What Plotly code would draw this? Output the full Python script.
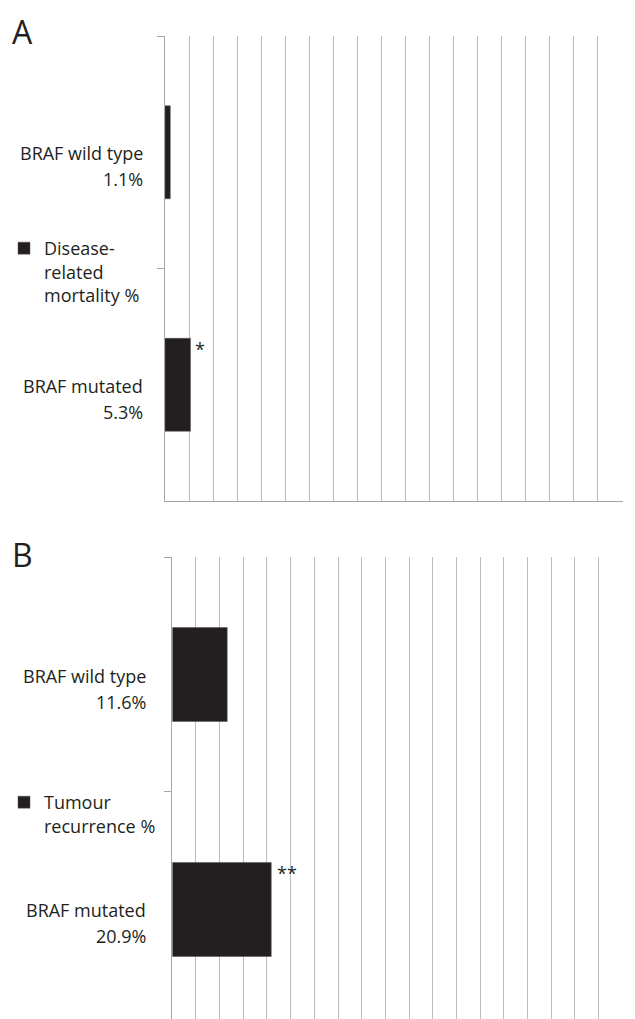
import plotly.graph_objects as go

# ---- data ----
categories = ["BRAF wild type", "BRAF mutated"]
mortality_pct = [1.1, 5.3]
recurrence_pct = [11.6, 20.9]
series_names = ["Disease-<br>related<br>mortality %", "Tumour<br>recurrence %"]
mortality_sig = ["", "*"]
recurrence_sig = ["", "**"]
panel_letters = ["A", "B"]

W, H = 635, 1019
INK = "#231f20"
FONT = "Open Sans"
FS = 18

fig = go.Figure()

panels = [
    dict(vals=mortality_pct, sig=mortality_sig, name=series_names[0], xa="x", ya="y",
         xdom=(165 / W, 623 / W), ydom=(1 - 501 / H, 1 - 36 / H), yrange=[1.5, -0.5],
         legend="legend", showxline=True, lab_right=145, leg_top=230, letter_y=32),
    dict(vals=recurrence_pct, sig=recurrence_sig, name=series_names[1], xa="x2", ya="y2",
         xdom=(172.3 / W, 623 / W), ydom=(0, 1 - 557 / H), yrange=[1.466, -0.5],
         legend="legend2", showxline=False, lab_right=148, leg_top=784, letter_y=554),
]

for i, p in enumerate(panels):
    fig.add_trace(go.Bar(
        x=p["vals"], y=categories, orientation="h", name=p["name"],
        marker=dict(color=INK, line=dict(color="#555555", width=0.5)),
        width=0.4, xaxis=p["xa"], yaxis=p["ya"], legend=p["legend"], showlegend=True,
        hoverinfo="skip",
    ))
    # significance marks
    for j, (v, s) in enumerate(zip(p["vals"], p["sig"])):
        if s:
            fig.add_annotation(x=v, y=j - 0.2, xref=p["xa"], yref=p["ya"], text=s,
                               showarrow=False, xanchor="left", yanchor="top",
                               xshift=2 if len(s) == 1 else 4, yshift=3,
                               font=dict(size=18, color=INK, family=FONT))
    # category labels (two lines each)
    for j, (c, v) in enumerate(zip(categories, p["vals"])):
        fig.add_annotation(x=p["lab_right"] / W, y=j, xref="paper", yref=p["ya"], text=c,
                           showarrow=False, xanchor="right", yanchor="middle", yshift=-1,
                           font=dict(size=FS, color=INK, family=FONT))
        fig.add_annotation(x=p["lab_right"] / W, y=j, xref="paper", yref=p["ya"], text=f"{v}%",
                           showarrow=False, xanchor="right", yanchor="middle", yshift=-27,
                           font=dict(size=FS, color=INK, family=FONT))
    # panel letter
    fig.add_annotation(x=10 / W, y=1 - p["letter_y"] / H, xref="paper", yref="paper",
                       text=panel_letters[i], showarrow=False, xanchor="left", yanchor="middle",
                       font=dict(size=32, color=INK, family=FONT))

    xname = "xaxis" if p["xa"] == "x" else "xaxis2"
    yname = "yaxis" if p["ya"] == "y" else "yaxis2"
    fig.update_layout(**{
        xname: dict(domain=list(p["xdom"]), range=[0, 95.2], dtick=5, tick0=0,
                    showgrid=True, gridcolor="#bdbdbd", gridwidth=1, zeroline=False,
                    showticklabels=False, ticks="", anchor=p["ya"],
                    showline=p["showxline"], linecolor="#a6a6a6", linewidth=1),
        yname: dict(domain=list(p["ydom"]), range=p["yrange"], type="category",
                    categoryorder="array", categoryarray=categories,
                    showgrid=False, zeroline=False, showticklabels=False,
                    ticks="outside", tickson="boundaries", ticklen=7, tickcolor="#a6a6a6",
                    showline=True, linecolor="#a6a6a6", linewidth=1, anchor=p["xa"]),
        p["legend"]: dict(x=4 / W, y=1 - p["leg_top"] / H, xanchor="left", yanchor="top",
                          bgcolor="rgba(0,0,0,0)", valign="top",
                          font=dict(size=FS, color=INK, family=FONT)),
    })

fig.update_layout(
    width=W, height=H, margin=dict(l=0, r=0, t=0, b=0),
    paper_bgcolor="white", plot_bgcolor="white",
    font=dict(family=FONT, color=INK), bargap=0.6,
)

fig.write_html("out.html", config={"displayModeBar": False},
               post_script="document.body.style.margin='0';")
